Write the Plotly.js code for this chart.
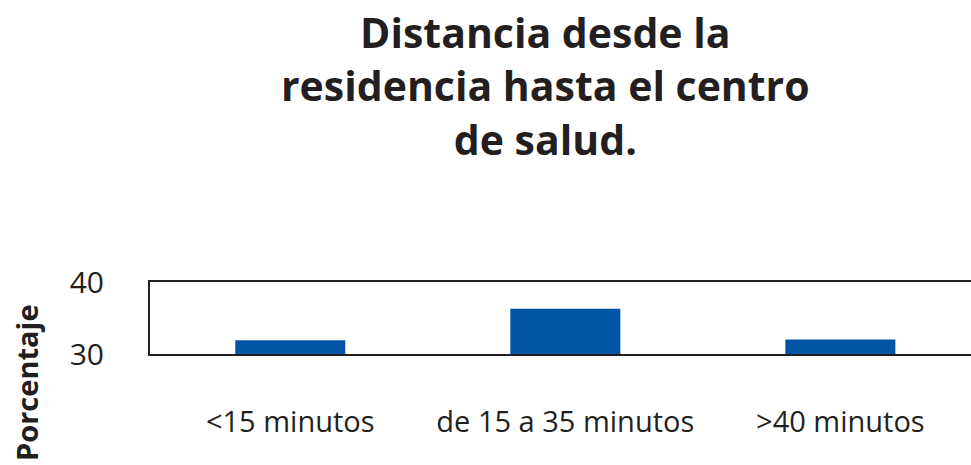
<!DOCTYPE html>
<html>
<head>
<meta charset="utf-8">
<script src="https://cdn.plot.ly/plotly-3.0.1.min.js"></script>
<style>html,body{margin:0;padding:0;background:#fff;}</style>
</head>
<body>
<div id="chart" style="width:971px;height:465px;"></div>
<script>
const categories = ["<15 minutos", "de 15 a 35 minutos", ">40 minutos"];
const porcentaje = [31.9, 36.3, 32.0];
const yTicks = [30, 40];
const titleText = "Distancia desde la<br>residencia hasta el centro<br>de salud.";
const yTitle = "Porcentaje";

const trace = {
  type: "bar",
  x: categories,
  y: porcentaje,
  base: 0,
  marker: {color: "#0255a5"},
  width: 0.4,
  hoverinfo: "x+y"
};

const layout = {
  width: 971,
  height: 465,
  paper_bgcolor: "#ffffff",
  plot_bgcolor: "#ffffff",
  margin: {l: 150, r: 0, t: 282, b: 111},
  showlegend: false,
  font: {family: "Open Sans, sans-serif", color: "#231f20"},
  xaxis: {
    type: "category",
    range: [-0.51, 2.475],
    showline: true, linecolor: "#231f20", linewidth: 2,
    mirror: true,
    showgrid: false, zeroline: false,
    ticks: "",
    tickfont: {size: 29, color: "#231f20"},
    ticklabelstandoff: 41
  },
  yaxis: {
    range: [30, 40],
    tickvals: yTicks,
    ticktext: yTicks.map(String),
    showline: true, linecolor: "#231f20", linewidth: 2,
    showgrid: false, zeroline: false,
    ticks: "",
    ticklabelstandoff: 38,
    tickfont: {size: 30, color: "#231f20"}
  },
  annotations: [
    {
      text: "<b>" + titleText + "</b>",
      xref: "paper", yref: "paper",
      x: 0.482, y: (354 - 85) / 72,
      xanchor: "center", yanchor: "middle",
      showarrow: false,
      font: {family: "Open Sans, sans-serif", size: 41, color: "#231f20"}
    },
    {
      text: "<b>" + yTitle + "</b>",
      xref: "paper", yref: "paper",
      x: (26 - 150) / 821, y: (354 - 382) / 72,
      xanchor: "center", yanchor: "middle",
      textangle: -90,
      showarrow: false,
      font: {family: "Open Sans, sans-serif", size: 29, color: "#231f20"}
    }
  ]
};

Plotly.newPlot("chart", [trace], layout, {displayModeBar: false, staticPlot: true});
</script>
</body>
</html>
